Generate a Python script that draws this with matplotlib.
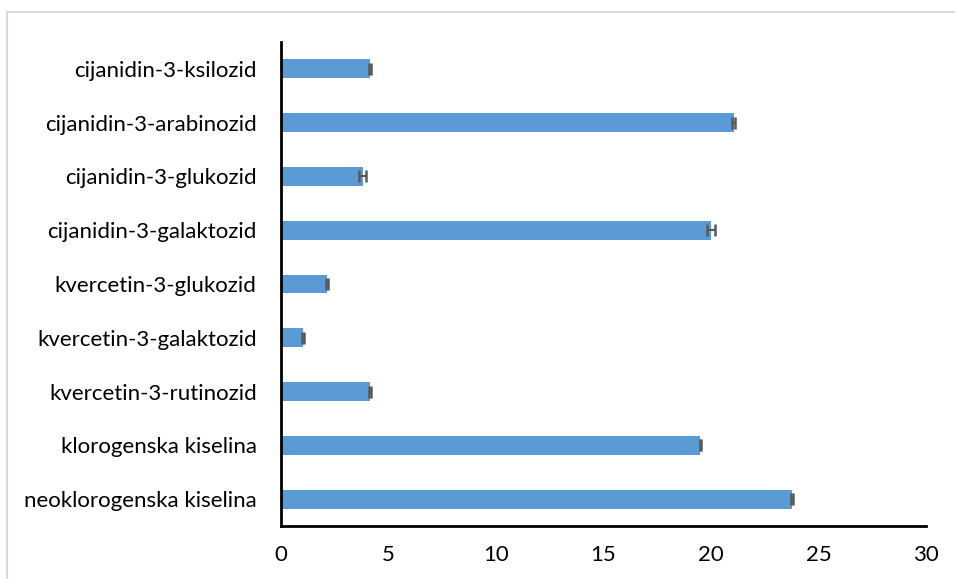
import matplotlib
matplotlib.use("Agg")
import matplotlib.pyplot as plt
from matplotlib.lines import Line2D

categories = [
    "neoklorogenska kiselina",
    "klorogenska kiselina",
    "kvercetin-3-rutinozid",
    "kvercetin-3-galaktozid",
    "kvercetin-3-glukozid",
    "cijanidin-3-galaktozid",
    "cijanidin-3-glukozid",
    "cijanidin-3-arabinozid",
    "cijanidin-3-ksilozid",
]
values = [23.75, 19.5, 4.13, 1.03, 2.15, 20.0, 3.8, 21.05, 4.13]
errors = [0.05, 0.03, 0.05, 0.04, 0.04, 0.2, 0.17, 0.06, 0.05]
xticks = [0, 5, 10, 15, 20, 25, 30]

plt.rcParams['font.family'] = ['Lato', 'DejaVu Sans']

fig = plt.figure(figsize=(9.55, 5.79), dpi=100)
ax = fig.add_axes([0.2942, 0.0915, 0.9696 - 0.2942, 0.9275 - 0.0915])

y = list(range(len(categories)))
ax.barh(y, values, height=0.35, color="#5B9BD5", zorder=2)
ax.errorbar(values, y, xerr=errors, fmt='none', ecolor="#595959",
            elinewidth=1.5, capsize=4.3, capthick=1.8, zorder=3)

ax.set_xlim(0, 30)
ax.set_ylim(-0.5, len(categories) - 0.5)
ax.set_xticks(xticks)
ax.set_xticklabels([str(t) for t in xticks])
ax.set_yticks(y)
ax.set_yticklabels(categories)
ax.tick_params(axis='both', length=0, labelsize=16, colors='black')
ax.tick_params(axis='x', pad=14)
ax.tick_params(axis='y', pad=17.5)
for s in ['top', 'right']:
    ax.spines[s].set_visible(False)
for s in ['left', 'bottom']:
    ax.spines[s].set_linewidth(2)
    ax.spines[s].set_color('black')

# light grey chart border (top and left visible)
W, H = 955, 579
fig.add_artist(Line2D([7 / W, 1.0], [1 - 12 / H, 1 - 12 / H], color="#D9D9D9", lw=1.5))
fig.add_artist(Line2D([7 / W, 7 / W], [0.0, 1 - 12 / H], color="#D9D9D9", lw=1.5))

fig.savefig("out.png", dpi=100)
